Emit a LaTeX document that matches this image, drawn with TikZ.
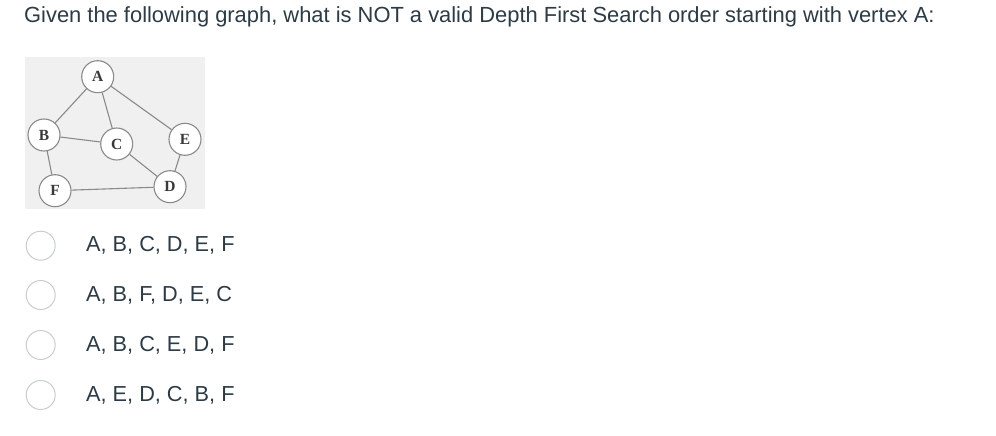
\documentclass[tikz,border=0pt]{standalone}
\usepackage{fontspec}
\setmainfont{Liberation Sans}
\newfontfamily\nodefont{Liberation Serif}
\definecolor{txt}{HTML}{2D3B45}
\definecolor{radio}{HTML}{C7CDD1}
\definecolor{gbg}{HTML}{F0F0F0}
\definecolor{gline}{HTML}{8A8A8A}
\definecolor{glab}{HTML}{3A3A3A}
\begin{document}
\begin{tikzpicture}[x=1pt,y=-1pt,
  vtx/.style={circle,draw=gline,line width=1.1pt,fill=white,minimum size=32pt,inner sep=0pt,font=\nodefont\fontsize{15.5}{15.5}\selectfont\bfseries,text=glab},
  edge/.style={draw=gline,line width=1.1pt},
  radiobtn/.style={circle,draw=radio,line width=1pt,minimum size=29pt,inner sep=0pt},
  opt/.style={anchor=west,inner sep=0pt,text=txt,font=\fontsize{21.7}{21.7}\selectfont},
  ]
\useasboundingbox (0,0) rectangle (996,436);
\fill[white] (0,0) rectangle (996,436);
\node[anchor=west,inner sep=0pt,text=txt,font=\fontsize{21.9}{21.9}\selectfont] (title) at (24,17) {Given the following graph, what is NOT a valid Depth First Search order starting with vertex A:};
\fill[gbg] (25,57) rectangle (205,209);
\node[vtx] (A) at (97.7,76.7) {A};
\node[vtx] (B) at (44,135) {B};
\node[vtx] (C) at (116.7,144) {C};
\node[vtx] (E) at (185,139.3) {E};
\node[vtx] (F) at (55,190.7) {F};
\node[vtx] (D) at (170,186.7) {D};
\path[edge] (A) -- (B);
\path[edge] (A) -- (C);
\path[edge] (A) -- (E);
\path[edge] (B) -- (C);
\path[edge] (B) -- (F);
\path[edge] (C) -- (D);
\path[edge] (E) -- (D);
\path[edge] (F) -- (D);
\node[radiobtn] (r1) at (40.7,245.7) {};
\node[radiobtn] (r2) at (40.7,295) {};
\node[radiobtn] (r3) at (40.7,345) {};
\node[radiobtn] (r4) at (40.7,395) {};
\node[opt] (o1) at (86,245.7) {A, B, C, D, E, F};
\node[opt] (o2) at (86,295) {A, B, F, D, E, C};
\node[opt] (o3) at (86,345) {A, B, C, E, D, F};
\node[opt] (o4) at (86,395) {A, E, D, C, B, F};
\end{tikzpicture}
\end{document}
